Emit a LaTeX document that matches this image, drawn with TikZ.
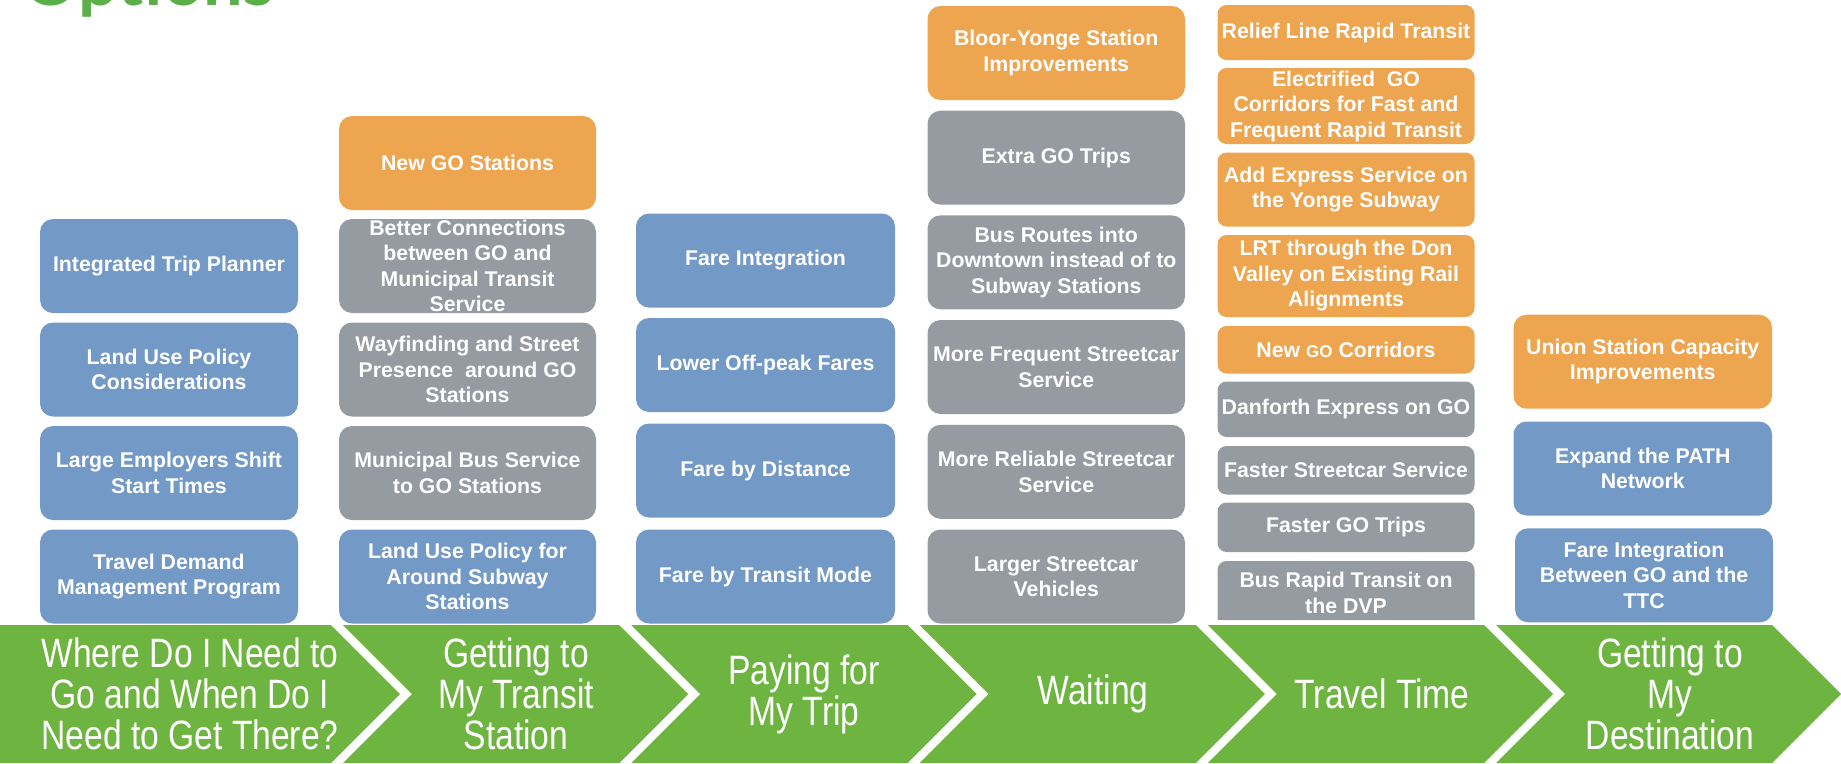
\documentclass[tikz,border=0pt]{standalone}
\usepackage{fontspec}
\setmainfont{Liberation Sans}
\newfontfamily\narrowf[FakeStretch=0.82]{Liberation Sans}
\newfontfamily\titlef{Lato}
\definecolor{blueB}{RGB}{115,153,198}
\definecolor{orangeB}{RGB}{237,165,80}
\definecolor{grayB}{RGB}{149,155,161}
\definecolor{greenC}{RGB}{110,180,64}
\definecolor{titleG}{RGB}{91,175,72}
\tikzset{
  boxtext/.style={text=white, align=center, inner sep=0pt,
    font=\bfseries\fontsize{21.3}{25.5}\selectfont},
  chevtext/.style={text=white, align=center, inner sep=0pt,
    font=\narrowf\fontsize{41}{41}\selectfont},
  chev/.style={fill=greenC},
  bigbox/.style={rounded corners=13pt},
  smallbox/.style={rounded corners=9pt}
}
% #1 name, #2 x1, #3 y1, #4 x2, #5 y2, #6 style, #7 text
\newcommand\optbox[7]{%
  \fill[#6] (#2,#3) rectangle (#4,#5);
  \node[boxtext] (#1) at ({(#2+#4)/2},{(#3+#5)/2}) {#7};}
\begin{document}
\begin{tikzpicture}[x=1pt,y=-1pt]
\useasboundingbox (0,0) rectangle (1841,763);
% title (cut off at top)
\node[anchor=base west, inner sep=0pt, text=titleG] (title) at (22,5)
  {\resizebox{252pt}{!}{\titlef\bfseries Options}};
% column 1
\optbox{a1}{40}{219}{298}{313}{blueB,bigbox}{Integrated Trip Planner}
\optbox{a2}{40}{322.5}{298}{416.5}{blueB,bigbox}{Land Use Policy\\Considerations}
\optbox{a3}{40}{426}{298}{520}{blueB,bigbox}{Large Employers Shift\\Start Times}
\optbox{a4}{40}{529.5}{298}{623.5}{blueB,bigbox}{Travel Demand\\Management Program}
% column 2
\optbox{b1}{339}{116}{596}{210}{orangeB,bigbox}{New GO Stations}
\optbox{b2}{339}{219}{596}{313}{grayB,bigbox}{Better Connections\\between GO and\\Municipal Transit\\Service}
\optbox{b3}{339}{322.5}{596}{416.5}{grayB,bigbox}{Wayfinding and Street\\Presence\ \ around GO\\Stations}
\optbox{b4}{339}{426}{596}{520}{grayB,bigbox}{Municipal Bus Service\\to GO Stations}
\optbox{b5}{339}{529.5}{596}{623.5}{blueB,bigbox}{Land Use Policy for\\Around Subway\\Stations}
% column 3
\optbox{c1}{636}{213.5}{895}{307.5}{blueB,bigbox}{Fare Integration}
\optbox{c2}{636}{318}{895}{412}{blueB,bigbox}{Lower Off-peak Fares}
\optbox{c3}{636}{423.5}{895}{517.5}{blueB,bigbox}{Fare by Distance}
\optbox{c4}{636}{529.5}{895}{623.5}{blueB,bigbox}{Fare by Transit Mode}
% column 4
\optbox{d1}{927.5}{6}{1185}{100}{orangeB,bigbox}{Bloor-Yonge Station\\Improvements}
\optbox{d2}{927.5}{110.7}{1185}{204.7}{grayB,bigbox}{Extra GO Trips}
\optbox{d3}{927.5}{215.4}{1185}{309.4}{grayB,bigbox}{Bus Routes into\\Downtown instead of to\\Subway Stations}
\optbox{d4}{927.5}{320}{1185}{414}{grayB,bigbox}{More Frequent Streetcar\\Service}
\optbox{d5}{927.5}{424.8}{1185}{518.8}{grayB,bigbox}{More Reliable Streetcar\\Service}
\optbox{d6}{927.5}{529.5}{1185}{623.5}{grayB,bigbox}{Larger Streetcar\\Vehicles}
% column 5
\optbox{e1}{1217.5}{5}{1474.5}{60}{orangeB,smallbox}{Relief Line Rapid Transit}
\optbox{e2}{1217.5}{68}{1474.5}{144}{orangeB,smallbox}{Electrified\ \ GO\\Corridors for Fast and\\Frequent Rapid Transit}
\optbox{e3}{1217.5}{152.5}{1474.5}{226.5}{orangeB,smallbox}{Add Express Service on\\the Yonge Subway}
\optbox{e4}{1217.5}{235}{1474.5}{317}{orangeB,smallbox}{LRT through the Don\\Valley on Existing Rail\\Alignments}
\optbox{e5}{1217.5}{326}{1474.5}{373.5}{orangeB,smallbox}{New {\fontsize{17}{20}\selectfont GO} Corridors}
\optbox{e6}{1217.5}{381.5}{1474.5}{437}{grayB,smallbox}{Danforth Express on GO}
\optbox{e7}{1217.5}{446}{1474.5}{494.5}{grayB,smallbox}{Faster Streetcar Service}
\optbox{e8}{1217.5}{502.5}{1474.5}{552}{grayB,smallbox}{Faster GO Trips}
\fill[grayB] (1217.5,620) -- (1217.5,570) arc[start angle=180,end angle=90,radius=9pt]
  -- (1465.5,561) arc[start angle=90,end angle=0,radius=9pt] -- (1474.5,620) -- cycle;
\node[boxtext] (e9) at (1346,593) {Bus Rapid Transit on\\the DVP};
% column 6
\optbox{f1}{1513.5}{314.7}{1772}{408.7}{orangeB,bigbox}{Union Station Capacity\\Improvements}
\optbox{f2}{1513.5}{421.5}{1772}{515.5}{blueB,bigbox}{Expand the PATH\\Network}
\optbox{f3}{1515}{528.3}{1773}{622.3}{blueB,bigbox}{Fare Integration\\Between GO and the\\TTC}
% chevrons
\fill[chev] (0,625) -- (331,625) -- (400,694) -- (331,763) -- (0,763) -- cycle;
\fill[chev] (343,625) -- (619.25,625) -- (688.25,694) -- (619.25,763) -- (343,763) -- (412,694) -- cycle;
\fill[chev] (631.25,625) -- (907.5,625) -- (976.5,694) -- (907.5,763) -- (631.25,763) -- (700.25,694) -- cycle;
\fill[chev] (919.5,625) -- (1195.75,625) -- (1264.75,694) -- (1195.75,763) -- (919.5,763) -- (988.5,694) -- cycle;
\fill[chev] (1207.75,625) -- (1484,625) -- (1553,694) -- (1484,763) -- (1207.75,763) -- (1276.75,694) -- cycle;
\fill[chev] (1496,625) -- (1772,625) -- (1841,694) -- (1772,763) -- (1496,763) -- (1565,694) -- cycle;
\node[chevtext] (s1) at (190,694) {Where Do I Need to\\Go and When Do I\\Need to Get There?};
\node[chevtext] (s2) at (516,694) {Getting to\\My Transit\\Station};
\node[chevtext] (s3) at (804,694) {Paying for\\My Trip};
\node[chevtext] (s4) at (1093,694) {Waiting};
\node[chevtext] (s5) at (1382,694) {Travel Time};
\node[chevtext] (s6) at (1670,694) {Getting to\\My\\Destination};
\end{tikzpicture}
\end{document}
